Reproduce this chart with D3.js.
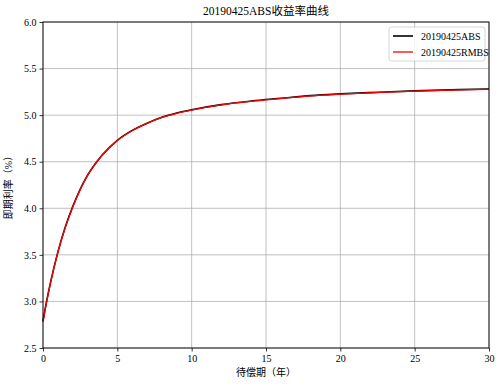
<!DOCTYPE html>
<html>
<head>
<meta charset="utf-8">
<script src="https://cdn.jsdelivr.net/npm/d3@7"></script>
<style>
  body { margin: 0; background: #fff; }
  text { font-family: "Liberation Serif", "Noto Sans CJK SC", serif; fill: #000; }
</style>
</head>
<body>
<svg id="chart" width="501" height="386"></svg>
<script>
// tenors (years) and spot rates (%)
const tenors = [0, 0.25, 0.5, 1, 1.5, 2, 2.5, 3, 4, 5, 6, 7, 8, 9, 10, 12, 14, 16, 18, 20, 22, 25, 28, 30]
const absRates = [2.79, 3.008, 3.200, 3.529, 3.798, 4.018, 4.203, 4.355, 4.575, 4.730, 4.836, 4.914, 4.978, 5.023, 5.058, 5.113, 5.151, 5.181, 5.210, 5.228, 5.242, 5.261, 5.274, 5.281]
const rmbsRates = [2.78, 3.000, 3.195, 3.525, 3.795, 4.015, 4.200, 4.352, 4.572, 4.727, 4.833, 4.911, 4.975, 5.020, 5.055, 5.110, 5.148, 5.178, 5.207, 5.225, 5.239, 5.258, 5.271, 5.278]
const xTicks = [0, 5, 10, 15, 20, 25, 30]
const yTicks = [2.5, 3.0, 3.5, 4.0, 4.5, 5.0, 5.5, 6.0]
const seriesNames = ['20190425ABS', '20190425RMBS']
const seriesColors = ['#000000', '#ff0000']

const margin = {top: 22, right: 12, bottom: 38, left: 43}
const width = 501 - margin.left - margin.right
const height = 386 - margin.top - margin.bottom

const svg = d3.select('#chart')
const g = svg.append('g').attr('transform', 'translate(' + margin.left + ',' + margin.top + ')')

const x = d3.scaleLinear().domain([0, 30]).range([0, width])
const y = d3.scaleLinear().domain([2.5, 6.0]).range([height, 0])

// grid
g.append('g').selectAll('line').data(xTicks).join('line')
    .attr('x1', d => x(d)).attr('x2', d => x(d))
    .attr('y1', 0).attr('y2', height)
    .attr('stroke', '#b0b0b0').attr('stroke-width', 0.8)
g.append('g').selectAll('line').data(yTicks).join('line')
    .attr('x1', 0).attr('x2', width)
    .attr('y1', d => y(d)).attr('y2', d => y(d))
    .attr('stroke', '#b0b0b0').attr('stroke-width', 0.8)

// axes
const xAxis = g.append('g').attr('transform', 'translate(0,' + height + ')')
    .call(d3.axisBottom(x).tickValues(xTicks).tickSizeInner(3.5).tickSizeOuter(0).tickPadding(3).tickFormat(d3.format('d')))
const yAxis = g.append('g')
    .call(d3.axisLeft(y).tickValues(yTicks).tickSizeInner(3.5).tickSizeOuter(0).tickPadding(3).tickFormat(d3.format('.1f')))
;[xAxis, yAxis].forEach(a => {
    a.selectAll('path').remove()
    a.selectAll('.tick text').attr('font-size', 10).attr('font-family', '"Liberation Serif", serif').attr('fill', '#333')
    a.selectAll('.tick line').attr('stroke', '#000').attr('stroke-width', 0.8)
})

// curves
const line = d3.line().curve(d3.curveMonotoneX)
const seriesData = [absRates, rmbsRates]
seriesData.forEach((vals, i) => {
    g.append('path')
        .datum(tenors.map((t, j) => [x(t), y(vals[j])]))
        .attr('d', line)
        .attr('fill', 'none')
        .attr('stroke', seriesColors[i])
        .attr('stroke-width', i === 0 ? 1.6 : 1.3)
})

// frame
g.append('rect').attr('width', width).attr('height', height)
    .attr('fill', 'none').attr('stroke', '#000').attr('stroke-width', 0.9)

// legend
const leg = g.append('g').attr('transform', 'translate(' + (width - 100) + ',5)')
leg.append('rect').attr('width', 96).attr('height', 34).attr('rx', 2.5)
    .attr('fill', '#fff').attr('fill-opacity', 0.8).attr('stroke', '#cccccc').attr('stroke-width', 0.8)
seriesNames.forEach((name, i) => {
    const yy = 9 + i * 16
    leg.append('line').attr('x1', 4).attr('x2', 24).attr('y1', yy).attr('y2', yy)
        .attr('stroke', seriesColors[i]).attr('stroke-width', i === 0 ? 1.6 : 1.3)
    leg.append('text').attr('x', 32).attr('y', yy).attr('dy', '0.35em')
        .attr('font-size', 10).attr('fill', '#222').text(name)
})

// labels
svg.append('text').text('20190425ABS收益率曲线')
    .attr('x', margin.left + width / 2).attr('y', 15)
    .attr('text-anchor', 'middle').attr('font-size', 11.5).attr('fill', '#222')
svg.append('text').text('待偿期（年）')
    .attr('x', margin.left + width / 2).attr('y', 376)
    .attr('text-anchor', 'middle').attr('font-size', 10).attr('fill', '#333')
svg.append('text').text('即期利率（%）')
    .attr('transform', 'translate(12,' + (margin.top + height / 2) + ') rotate(-90)')
    .attr('text-anchor', 'middle').attr('font-size', 10).attr('fill', '#333')
</script>
</body>
</html>
